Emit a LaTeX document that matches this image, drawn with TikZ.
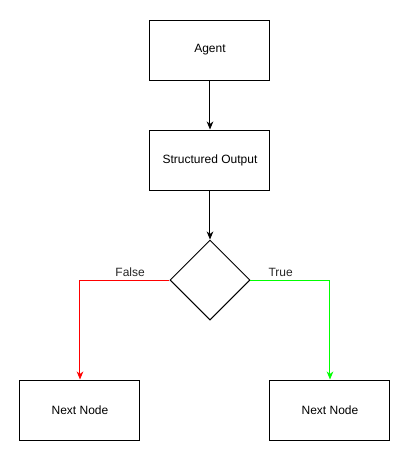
\documentclass[tikz,border=0pt]{standalone}
\usepackage{fontspec}
\setmainfont{Liberation Sans}
\usetikzlibrary{arrows.meta,shapes.geometric}

\begin{document}
\begin{tikzpicture}[x=0.75pt,y=-0.75pt,->,>={Stealth[length=6pt,width=5pt,inset=1.8pt]},auto,line width=0.75pt,
		main node/.style={rectangle,draw,minimum width=90pt,minimum height=45pt,inner sep=0pt,font=\fontsize{9}{11}\selectfont},
		choice node/.style={diamond,draw,minimum width=60pt,minimum height=60pt,inner sep=0pt},
		label node/.style={font=\fontsize{9}{11}\selectfont,inner sep=2pt}]
		\useasboundingbox (0,0) rectangle (411,462);
		\node[main node] (agent) at (210,50) {Agent};
		\node[main node] (output) at (210,160) {Structured Output};
		\node[choice node] (check) at (210,280) {};
		\node[main node] (falsenode) at (80,410) {Next Node};
		\node[main node] (truenode) at (330,410) {Next Node};
		\path
		(agent) edge (output)
		
		(output) edge (check);
		\draw[red] (check.west) -| node[label node,pos=0.22,above,text=black!85] {False} (falsenode.north);
		\draw[green] (check.east) -| node[label node,pos=0.19,above,text=black!85] {True} (truenode.north);
		\end{tikzpicture}
\end{document}
